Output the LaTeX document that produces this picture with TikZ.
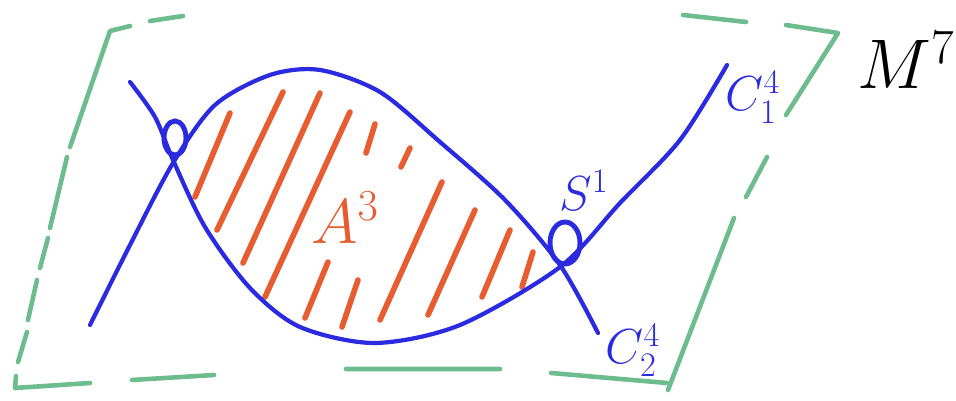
\RequirePackage{fix-cm}
\documentclass[tikz,border=0pt]{standalone}
\definecolor{inkblue}{RGB}{42,42,225}
\definecolor{inkorange}{RGB}{232,92,50}
\definecolor{inkgreen}{RGB}{108,188,142}
\tikzset{
  frame/.style={draw=inkgreen, line width=2.6pt, line cap=round, line join=round},
  curve/.style={draw=inkblue, line width=2.4pt, line cap=round},
  hatch/.style={draw=inkorange, line width=3.2pt, line cap=round},
  lbl/.style={inkblue, font=\fontsize{28}{31}\selectfont},
}
\begin{document}
\begin{tikzpicture}[x=0.02cm,y=-0.02cm]
  \useasboundingbox (0,0) rectangle (956,401);
  % the manifold, a sketchy dashed frame
  \draw[frame] (183,16) -- (150,21) (130,26) -- (110,31) -- (70,147)
    (67,157) -- (50,228) (48,238) -- (40,268) (37,280) -- (28,320)
    (27,332) -- (18,362) (16,376) -- (15,388) -- (90,383)
    (132,380) -- (214,375) (346,369) -- (500,369) (551,373) -- (667,383)
    (668,390) -- (734,218) (746,197) -- (767,157)
    (786,115) -- (838,33) -- (786,25) (746,22) -- (683,15);
  % hatching of the region
  \draw[hatch] (230,113) -- (195,197);
  \draw[hatch] (283,92) -- (217,230);
  \draw[hatch] (320,93) -- (243,263);
  \draw[hatch] (350,112) -- (265,297);
  \draw[hatch] (328,262) -- (305,318);
  \draw[hatch] (358,280) -- (342,327);
  \draw[hatch] (375,124) -- (366,153);
  \draw[hatch] (410,148) -- (401,167);
  \draw[hatch] (442,182) -- (380,320);
  \draw[hatch] (475,210) -- (428,315);
  \draw[hatch] (510,230) -- (482,297);
  \draw[hatch] (533,252) -- (522,287);
  % the two curves
  \draw[curve] plot[smooth] coordinates {(90,325) (130,245) (173,163)
    (215,105) (270,75) (320,70) (380,92) (440,142) (505,200) (560,265) (598,333)};
  \draw[curve] plot[smooth] coordinates {(130,82) (155,117) (173,160)
    (205,227) (250,288) (300,327) (375,343) (460,325) (560,267)
    (620,203) (680,140) (727,65)};
  % the two little circles
  \draw[curve, line width=2.8pt] (175,138) ellipse [x radius=11, y radius=17];
  \draw[curve, line width=2.8pt] (565,243) ellipse [x radius=15, y radius=21];
  % labels
  \node[lbl] (c1) at (753,97) {$C_1^4$};
  \node[lbl] (c2) at (633,350) {$C_2^4$};
  \node[lbl] (s1) at (584,190) {$S^1$};
  \node[inkorange, font=\fontsize{36}{40}\selectfont] (a3) at (345,218) {$A^3$};
  \node[black, font=\fontsize{40}{44}\selectfont] (m7) at (906,60) {$M^7$};
\end{tikzpicture}
\end{document}
